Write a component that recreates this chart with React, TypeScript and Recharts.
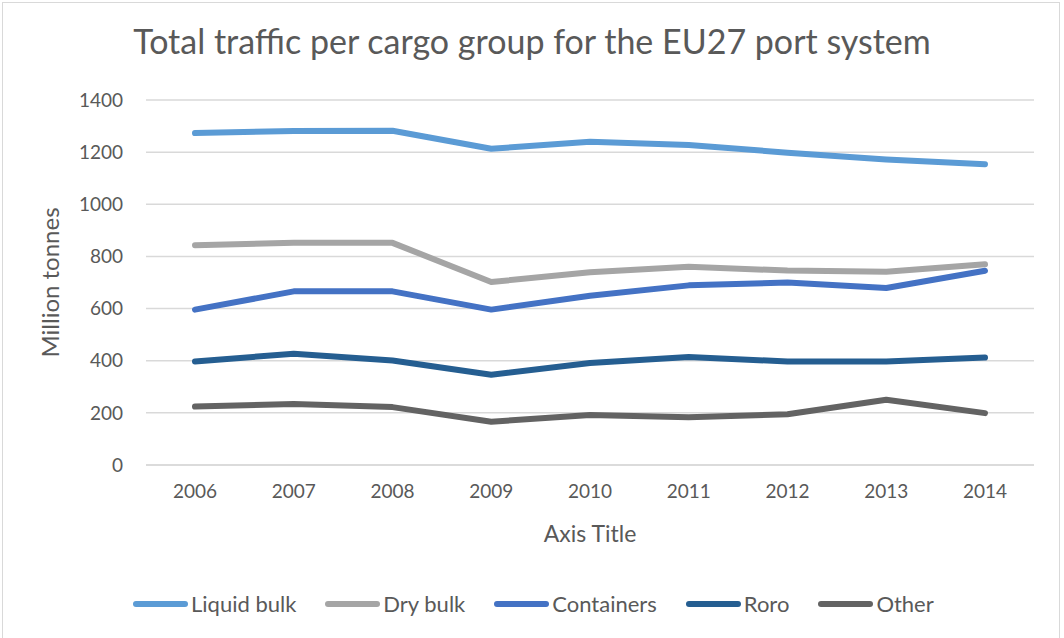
import { LineChart, Line, XAxis, YAxis, CartesianGrid, Legend } from 'recharts'

const years = ['2006', '2007', '2008', '2009', '2010', '2011', '2012', '2013', '2014']
const liquidBulk = [1273, 1281, 1282, 1213, 1240, 1227, 1198, 1172, 1154]
const dryBulk = [843, 852, 852, 702, 739, 760, 746, 741, 770]
const containers = [596, 666, 666, 596, 649, 689, 700, 679, 745]
const roro = [397, 427, 401, 346, 391, 414, 397, 397, 412]
const other = [224, 234, 222, 166, 192, 183, 195, 250, 199]
const yTicks = [0, 200, 400, 600, 800, 1000, 1200, 1400]

const series = [
  { key: 'liquid', name: 'Liquid bulk', color: '#5b9bd5', values: liquidBulk },
  { key: 'dry', name: 'Dry bulk', color: '#a5a5a5', values: dryBulk },
  { key: 'containers', name: 'Containers', color: '#4472c4', values: containers },
  { key: 'roro', name: 'Roro', color: '#255e91', values: roro },
  { key: 'other', name: 'Other', color: '#636363', values: other },
]

const data = years.map((year, i) => {
  const row: Record<string, string | number> = { year }
  series.forEach(s => {
    row[s.key] = s.values[i]
  })
  return row
})

const FONT = 'Lato, "Open Sans", sans-serif'
const TEXT = '#595959'
const GRID = '#d9d9d9'

function LegendContent() {
  return (
    <div style={{ display: 'flex', alignItems: 'center', fontFamily: FONT, fontSize: 22, color: TEXT }}>
      {series.map(s => (
        <div key={s.key} style={{ display: 'flex', alignItems: 'center', marginRight: 29 }}>
          <div style={{ width: 55, height: 6, borderRadius: 3, background: s.color, marginRight: 3 }} />
          <span>{s.name}</span>
        </div>
      ))}
    </div>
  )
}

export default function App() {
  return (
    <div style={{ position: 'absolute', left: 0, top: 0, width: 1064, height: 638, background: '#fff', overflow: 'hidden' }}>
      <div
        style={{
          position: 'absolute',
          left: 2,
          top: 2,
          width: 1058,
          height: 650,
          border: `1px solid ${GRID}`,
          boxSizing: 'border-box',
        }}
      />
      <div
        style={{
          position: 'absolute',
          left: 0,
          top: 20,
          width: 1064,
          textAlign: 'center',
          fontFamily: FONT,
          fontSize: 34,
          color: TEXT,
          zIndex: 1,
        }}
      >
        Total traffic per cargo group for the EU27 port system
      </div>
      <LineChart
        width={1064}
        height={638}
        data={data}
        margin={{ top: 100, right: 30, left: 0, bottom: 93 }}
      >
        <CartesianGrid vertical={false} stroke={GRID} strokeWidth={1.5} />
        <XAxis
          dataKey="year"
          height={80}
          padding={{ left: 49, right: 49 }}
          axisLine={{ stroke: GRID, strokeWidth: 1.5 }}
          tickLine={false}
          tickSize={0}
          tickMargin={20}
          tick={{ fill: TEXT, fontSize: 19, fontFamily: FONT }}
          label={{ value: 'Axis Title', position: 'insideBottom', offset: 3, fill: TEXT, fontSize: 23, fontFamily: FONT }}
        />
        <YAxis
          width={146}
          domain={[0, 1400]}
          ticks={yTicks}
          axisLine={false}
          tickLine={false}
          tickSize={0}
          tickMargin={23}
          tick={{ fill: TEXT, fontSize: 19, fontFamily: FONT }}
          label={{
            value: 'Million tonnes',
            angle: -90,
            position: 'insideLeft',
            offset: 50,
            fill: TEXT,
            fontSize: 24,
            fontFamily: FONT,
            style: { textAnchor: 'middle' },
          }}
        />
        <Legend
          layout="horizontal"
          verticalAlign="middle"
          wrapperStyle={{ top: 590, left: 133, width: 920 }}
          content={<LegendContent />}
        />
        {series.map(s => (
          <Line
            key={s.key}
            type="linear"
            dataKey={s.key}
            name={s.name}
            stroke={s.color}
            strokeWidth={6}
            strokeLinecap="round"
            strokeLinejoin="round"
            dot={false}
            activeDot={false}
            isAnimationActive={false}
          />
        ))}
      </LineChart>
    </div>
  )
}
